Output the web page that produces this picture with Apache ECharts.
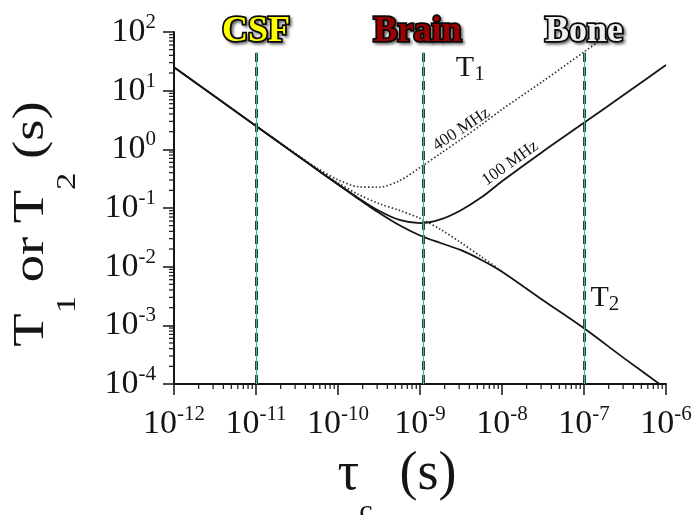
<!DOCTYPE html>
<html>
<head>
<meta charset="utf-8">
<script src="https://cdn.jsdelivr.net/npm/echarts@6/dist/echarts.min.js"></script>
<style>
html, body { margin: 0; padding: 0; background: #fff; }
#main { width: 694px; height: 515px; }
</style>
</head>
<body>
<div id="main"></div>
<script>
// correlation time tau_c (s)
const tauC = [1e-12, 1e-11, 3.16e-11, 5.62e-11, 1e-10, 1.78e-10, 3.16e-10, 5.62e-10, 1e-9, 1.78e-9, 3.16e-9, 5.62e-9, 1e-8, 3.16e-8, 1e-7, 3.16e-7, 1e-6];
// 100 MHz curves (solid)
const t1_100 = [25.0, 2.50, 0.794, 0.448, 0.254, 0.147, 0.0895, 0.0625, 0.0551, 0.0640, 0.0918, 0.152, 0.285, 0.92, 2.83, 8.75, 27.4];
const t2_100 = [25.0, 2.50, 0.792, 0.446, 0.251, 0.143, 0.0828, 0.0507, 0.0340, 0.0253, 0.0191, 0.0130, 0.0082, 0.00268, 0.00089, 0.000268, 0.000083];
// 400 MHz curves (dotted)
const t1_400 = [null, 2.51, 0.807, 0.474, 0.303, 0.230, 0.226, 0.292, 0.49, 0.85, 1.48, 2.63, 4.79, 14.5, 45.7, 145, 460];
const t2_400 = [null, 2.50, 0.797, 0.456, 0.269, 0.170, 0.119, 0.0910, 0.0665, 0.0431, 0.0256, 0.0147, 0.0083, null, null, null, null];

// tissue markers
const tissueNames = ['CSF', 'Brain', 'Bone'];
const tissueTau = [1e-11, 1.1e-9, 1e-7];
const tissueTop = 45;

// axis ticks
const xMajor = [1e-12, 1e-11, 1e-10, 1e-9, 1e-8, 1e-7, 1e-6];
const yMajor = [1e-4, 1e-3, 1e-2, 1e-1, 1, 10, 100];

function minorTicks(e0, e1) {
	const out = [];
	for (let e = e0; e < e1; e++) {
		for (let k = 2; k <= 9; k++) out.push(k * Math.pow(10, e));
	}
	return out;
}
const xMinor = minorTicks(-12, -6);
const yMinor = minorTicks(-4, 2);

const serif = 'Liberation Serif';
const ink = '#151515';

function pairs(ys) {
	return tauC.map((x, i) => [x, ys[i]]);
}
function powLabel(v) {
	const e = Math.round(Math.log10(v));
	return '{b|10}{s|' + e + '}';
}
const tickRich = {
	b: { fontSize: 34, fontFamily: serif, color: ink, lineHeight: 40 },
	s: { fontSize: 21, fontFamily: serif, color: ink, lineHeight: 20, verticalAlign: 'top' }
};

const chart = echarts.init(document.getElementById('main'));

const solid = { color: ink, width: 1.8 };
const dotted = { color: '#333', width: 1.7, type: [1.5, 2.2] };
const tissueColors = ['#ffff00', '#9c0000', '#f0f0f0'];

// short minor tick drawn at an axis value
function minorTick(dir) {
	return function (params, api) {
		const p = api.coord([api.value(0), api.value(1)]);
		const d = dir == 'x' ? [0, 5] : [-5, 0];
		return {
			type: 'line', silent: true,
			shape: { x1: p[0], y1: p[1], x2: p[0] + d[0], y2: p[1] + d[1] },
			style: { stroke: ink, lineWidth: 1.2 }
		};
	};
}

chart.setOption({
	animation: false,
	backgroundColor: '#fff',
	textStyle: { fontFamily: serif },
	grid: { left: 174, right: 28, top: 32, bottom: 131, outerBoundsMode: 'none', containLabel: false },
	xAxis: {
		type: 'log', logBase: 10, min: 1e-12, max: 1e-6,
		axisLine: { show: true, lineStyle: { color: ink, width: 2 } },
		axisTick: { show: true, length: 11, customValues: xMajor, lineStyle: { color: ink, width: 1.5 } },
		axisLabel: { customValues: xMajor, formatter: powLabel, rich: tickRich, margin: 20 },
		splitLine: { show: false },
		name: '{t|τ}{c|c}{t|  (s)}',
		nameLocation: 'middle',
		nameGap: 64,
		nameTextStyle: {
			padding: [0, 46, 0, 0],
			rich: {
				t: { fontSize: 54, fontFamily: serif, color: ink, lineHeight: 79, verticalAlign: 'top' },
				c: { fontSize: 30, fontFamily: serif, color: ink, lineHeight: 79, verticalAlign: 'bottom' }
			}
		}
	},
	yAxis: {
		type: 'log', logBase: 10, min: 1e-4, max: 100,
		axisLine: { show: true, lineStyle: { color: ink, width: 2 } },
		axisTick: { show: true, length: 11, customValues: yMajor, lineStyle: { color: ink, width: 1.5 } },
		axisLabel: { customValues: yMajor, formatter: powLabel, rich: tickRich, margin: 18 },
		splitLine: { show: false }
	},
	series: [
		{
			type: 'custom', name: 'xMinor', silent: true, clip: false,
			data: xMinor.map((v) => [v, 1e-4]),
			renderItem: minorTick('x')
		},
		{
			type: 'custom', name: 'yMinor', silent: true, clip: false,
			data: yMinor.map((v) => [1e-12, v]),
			renderItem: minorTick('y')
		},
		{
			type: 'line', name: 'tissues', data: [], silent: true,
			markLine: {
				symbol: ['none', 'none'], silent: true, animation: false,
				lineStyle: { color: '#2f3f40', width: 3, type: [9, 5] },
				label: {
					show: true, position: 'end', formatter: '{b}', distance: 3,
					fontFamily: serif, fontWeight: 'bold', fontSize: 36,
					textBorderColor: '#0a0a0a', textBorderWidth: 3.5,
					textShadowColor: 'rgba(0,0,0,0.45)', textShadowBlur: 3,
					textShadowOffsetX: 2, textShadowOffsetY: 2
				},
				data: tissueTau.map((x, i) => [
					{ coord: [x, 1e-4], name: tissueNames[i], label: { color: tissueColors[i], offset: i == 1 ? [-6, 0] : [0, 0] } },
					{ coord: [x, tissueTop] }
				])
			}
		},
		{
			type: 'line', name: 'tissueCore', data: [], silent: true,
			markLine: {
				symbol: ['none', 'none'], silent: true, animation: false,
				lineStyle: { color: '#2cbf9e', width: 1, type: 'solid' },
				label: { show: false },
				data: tissueTau.map((x) => [{ coord: [x, 1e-4] }, { coord: [x, tissueTop] }])
			}
		},
		{ type: 'line', name: 'T1 400 MHz', data: pairs(t1_400), showSymbol: false, smooth: 0.3, lineStyle: dotted },
		{ type: 'line', name: 'T2 400 MHz', data: pairs(t2_400), showSymbol: false, smooth: 0.3, lineStyle: dotted },
		{ type: 'line', name: 'T1 100 MHz', data: pairs(t1_100), showSymbol: false, smooth: 0.3, lineStyle: solid },
		{ type: 'line', name: 'T2 100 MHz', data: pairs(t2_100), showSymbol: false, smooth: 0.3, lineStyle: solid }
	]
});

// text notes placed in data coordinates
const notes = [
	{ text: '{m|T}{s|1}', at: [4.1e-9, 24], rot: 0, size: 30 },
	{ text: '{m|T}{s|2}', at: [1.8e-7, 0.00295], rot: 0, size: 30 },
	{ text: '{m|400 MHz}', at: [3.2e-9, 2.2], rot: 0.59, size: 17 },
	{ text: '{m|100 MHz}', at: [1.26e-8, 0.58], rot: 0.62, size: 17 }
];
const graphics = notes.map((n) => {
	const p = chart.convertToPixel({ xAxisIndex: 0, yAxisIndex: 0 }, n.at);
	return {
		type: 'text', x: p[0], y: p[1], rotation: n.rot, silent: true,
		style: {
			text: n.text, align: 'center', verticalAlign: 'middle',
			rich: {
				m: { fontSize: n.size, fontFamily: serif, fill: ink, lineHeight: n.size + 4 },
				s: { fontSize: n.size * 0.7, fontFamily: serif, fill: ink, lineHeight: 4, verticalAlign: 'bottom' }
			}
		}
	};
});
// y axis title, stretched along its length like the original
graphics.push({
	type: 'text', x: 9, y: 224, rotation: Math.PI / 2, scaleX: 1.24, silent: true,
	style: {
		text: '{m|T}{s|1}{m| or T}{s|2}{m| (s)}', align: 'center', verticalAlign: 'top',
		rich: {
			m: { fontSize: 44, fontFamily: serif, fill: ink, lineHeight: 73, verticalAlign: 'top' },
			s: { fontSize: 28, fontFamily: serif, fill: ink, lineHeight: 73, verticalAlign: 'bottom' }
		}
	}
});
chart.setOption({ graphic: graphics });
</script>
</body>
</html>
